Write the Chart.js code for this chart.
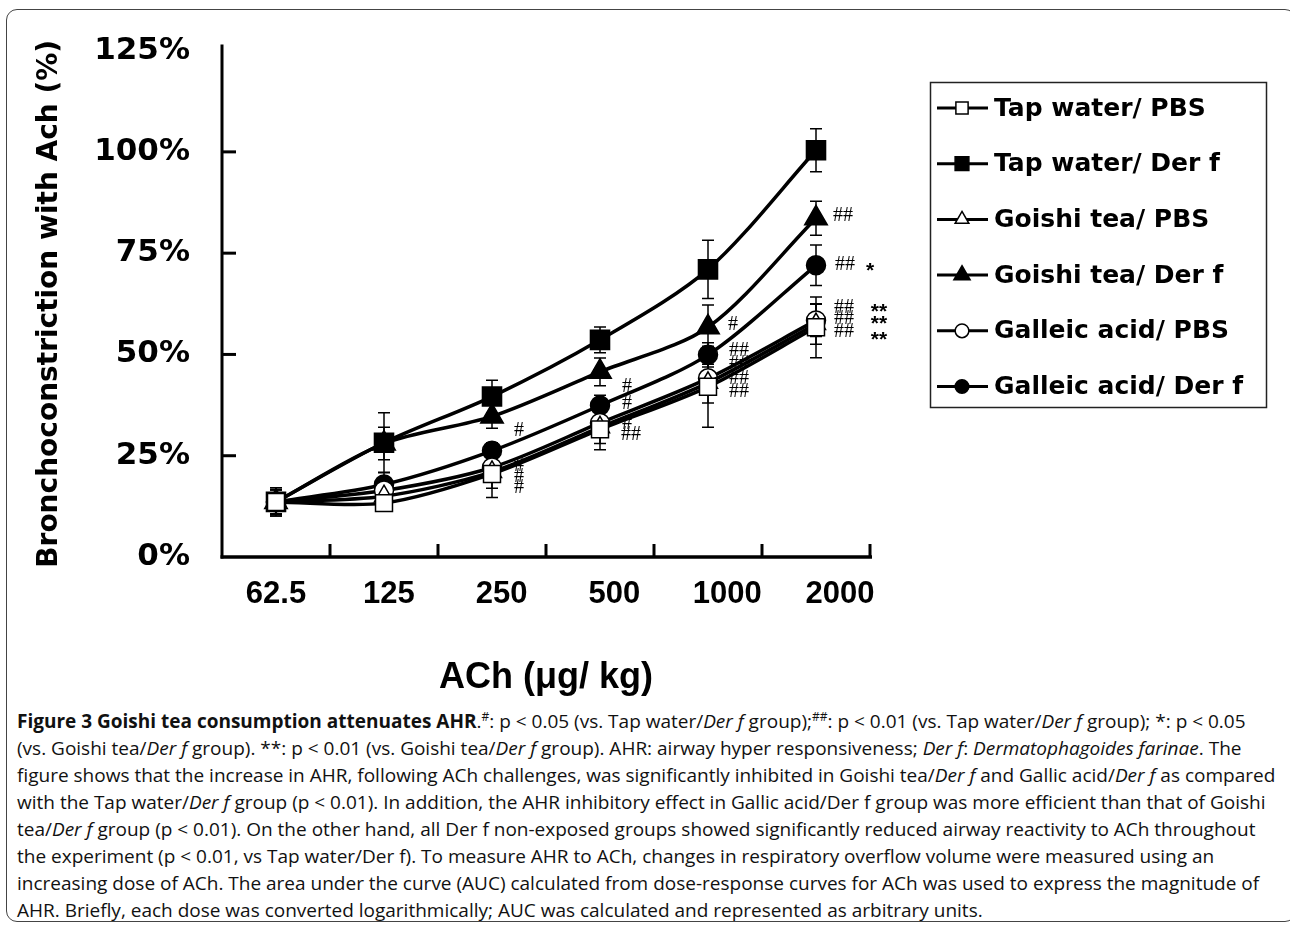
<!DOCTYPE html>
<html>
<head>
<meta charset="utf-8">
<script src="https://cdn.jsdelivr.net/npm/chart.js@4/dist/chart.umd.min.js"></script>
<style>
  html, body { margin: 0; padding: 0; background: #fff; }
  #wrap { position: relative; width: 1290px; height: 925px; overflow: hidden; }
  #chart { position: absolute; left: 0; top: 0; }
  #frame {
    position: absolute; left: 6px; top: 9px; width: 1290px; height: 913px;
    border: 1px solid #444; border-radius: 11px; box-sizing: border-box;
  }
  #caption {
    position: absolute; left: 17px; top: 708px; width: 1270px;
    font-family: "Open Sans", sans-serif; font-size: 19px; line-height: 27px; color: #111;
  }
  #caption div { white-space: nowrap; }
  #caption sup { font-size: 12px; line-height: 0; }
</style>
</head>
<body>
<div id="wrap">
  <div id="frame"></div>
  <canvas id="chart" width="1290" height="700"></canvas>
  <div id="caption">
    <div><b>Figure 3 Goishi tea consumption attenuates AHR</b>.<sup>#</sup>: p &lt; 0.05 (vs. Tap water/<i>Der f</i> group);<sup>##</sup>: p &lt; 0.01 (vs. Tap water/<i>Der f</i> group); *: p &lt; 0.05</div>
    <div>(vs. Goishi tea/<i>Der f</i> group). **: p &lt; 0.01 (vs. Goishi tea/<i>Der f</i> group). AHR: airway hyper responsiveness; <i>Der f</i>: <i>Dermatophagoides farinae</i>. The</div>
    <div>figure shows that the increase in AHR, following ACh challenges, was significantly inhibited in Goishi tea/<i>Der f</i> and Gallic acid/<i>Der f</i> as compared</div>
    <div>with the Tap water/<i>Der f</i> group (p &lt; 0.01). In addition, the AHR inhibitory effect in Gallic acid/Der f group was more efficient than that of Goishi</div>
    <div>tea/<i>Der f</i> group (p &lt; 0.01). On the other hand, all Der f non-exposed groups showed significantly reduced airway reactivity to ACh throughout</div>
    <div>the experiment (p &lt; 0.01, vs Tap water/Der f). To measure AHR to ACh, changes in respiratory overflow volume were measured using an</div>
    <div>increasing dose of ACh. The area under the curve (AUC) calculated from dose-response curves for ACh was used to express the magnitude of</div>
    <div>AHR. Briefly, each dose was converted logarithmically; AUC was calculated and represented as arbitrary units.</div>
  </div>
</div>
<script>
const doses = ['62.5', '125', '250', '500', '1000', '2000'];

const tapPbs = [13.6, 13.3, 20.5, 31.5, 42, 56.7];
const tapDer = [13.6, 28.2, 39.6, 53.6, 71, 100.4];
const goishiPbs = [13.6, 15, 21, 32, 43, 57.5];
const goishiDer = [13.6, 28, 34.7, 45.7, 56.7, 83.6];
const gallPbs = [13.6, 16.4, 22.1, 33.1, 44.1, 58.4];
const gallDer = [13.6, 17.9, 26.2, 37.4, 49.9, 72];

const tapPbsErr = [3.5, 2, 5.8, 5, 10, 7.5];
const tapDerErr = [3.5, 7.4, 4, 3.2, 7.2, 5.3];
const goishiPbsErr = [3, 2, 4, 4, 5, 5];
const goishiDerErr = [3, 4, 2.9, 3.4, 5.5, 4.2];
const gallPbsErr = [3, 2, 3, 3, 3.5, 4];
const gallDerErr = [3, 3, 2, 2.5, 3, 5];

const yTicks = [0, 25, 50, 75, 100, 125];

// [series, dose, text, dx, dy]
const sigMarks = [
  [3, 5, '##', 27, -3],
  [5, 5, '##', 29, -1], [5, 5, '*', 54, 2],
  [4, 5, '##', 28, -13], [4, 5, '**', 63, -12],
  [2, 5, '##', 28, -5], [2, 5, '**', 63, -4],
  [0, 5, '##', 28, 4], [0, 5, '**', 63, 9],
  [3, 4, '#', 25, -3],
  [5, 4, '##', 31, -4],
  [4, 4, '##', 31, -15],
  [2, 4, '##', 31, -4],
  [0, 4, '##', 31, 5],
  [5, 3, '#', 27, -19],
  [4, 3, '#', 27, -19],
  [2, 3, '#', 27, -4],
  [0, 3, '##', 31, 5],
  [5, 2, '#', 27, -20],
  [4, 2, '#', 27, -2],
  [2, 2, '#', 27, 5],
  [0, 2, '#', 27, 14],
];

const series = [
  { label: 'Tap water/ PBS', data: tapPbs, err: tapPbsErr, pointStyle: 'rect', radius: 12, fill: '#fff' },
  { label: 'Tap water/ Der f', data: tapDer, err: tapDerErr, pointStyle: 'rect', radius: 13.5, fill: '#000' },
  { label: 'Goishi tea/ PBS', data: goishiPbs, err: goishiPbsErr, pointStyle: 'triangle', radius: 11, fill: '#fff' },
  { label: 'Goishi tea/ Der f', data: goishiDer, err: goishiDerErr, pointStyle: 'triangle', radius: 13, fill: '#000' },
  { label: 'Galleic acid/ PBS', data: gallPbs, err: gallPbsErr, pointStyle: 'circle', radius: 9.5, fill: '#fff' },
  { label: 'Galleic acid/ Der f', data: gallDer, err: gallDerErr, pointStyle: 'circle', radius: 9.5, fill: '#000' },
];

const drawMarker = (ctx, style, x, y, r, fill) => {
  ctx.save();
  ctx.beginPath();
  if (style === 'rect') {
    const s = r * Math.SQRT1_2;
    ctx.rect(x - s, y - s, 2 * s, 2 * s);
  } else if (style === 'triangle') {
    ctx.moveTo(x, y - r);
    ctx.lineTo(x + r * 0.866, y + r * 0.5);
    ctx.lineTo(x - r * 0.866, y + r * 0.5);
    ctx.closePath();
  } else {
    ctx.arc(x, y, r, 0, Math.PI * 2);
  }
  ctx.fillStyle = fill;
  ctx.fill();
  ctx.lineWidth = 1.5;
  ctx.strokeStyle = '#000';
  ctx.stroke();
  ctx.restore();
};

const figurePlugin = {
  id: 'figurePlugin',
  beforeDatasetsDraw(chart) {
    const { ctx, scales: { x, y } } = chart;
    ctx.save();
    ctx.strokeStyle = '#000';
    ctx.lineWidth = 1.5;
    series.forEach((s) => {
      s.data.forEach((v, i) => {
        const px = x.getPixelForValue(i);
        const top = y.getPixelForValue(v + s.err[i]);
        const bot = y.getPixelForValue(v - s.err[i]);
        ctx.beginPath();
        ctx.moveTo(px, top); ctx.lineTo(px, bot);
        ctx.moveTo(px - 6, top); ctx.lineTo(px + 6, top);
        ctx.moveTo(px - 6, bot); ctx.lineTo(px + 6, bot);
        ctx.stroke();
      });
    });
    ctx.restore();
  },
  afterDraw(chart) {
    const { ctx, chartArea, scales: { x, y } } = chart;
    ctx.save();
    ctx.strokeStyle = '#000';
    ctx.lineCap = 'butt';

    // axes
    ctx.lineWidth = 3;
    ctx.beginPath();
    ctx.moveTo(chartArea.left, chartArea.top - 6);
    ctx.lineTo(chartArea.left, chartArea.bottom + 1.5);
    ctx.stroke();
    ctx.lineWidth = 3.5;
    ctx.beginPath();
    ctx.moveTo(chartArea.left - 1.5, chartArea.bottom);
    ctx.lineTo(chartArea.right + 2, chartArea.bottom);
    ctx.stroke();

    // inward tick marks
    ctx.lineWidth = 3;
    yTicks.slice(1, -1).forEach((t) => {
      const py = y.getPixelForValue(t);
      ctx.beginPath();
      ctx.moveTo(chartArea.left, py); ctx.lineTo(chartArea.left + 14, py);
      ctx.stroke();
    });
    const step = x.getPixelForValue(1) - x.getPixelForValue(0);
    doses.forEach((d, i) => {
      const px = x.getPixelForValue(i) + step / 2;
      ctx.beginPath();
      ctx.moveTo(px, chartArea.bottom); ctx.lineTo(px, chartArea.bottom - 13);
      ctx.stroke();
    });

    // dose labels, spaced a little wider than the points as in the figure
    ctx.fillStyle = '#000';
    ctx.font = 'bold 31px "Liberation Sans"';
    ctx.textAlign = 'center';
    ctx.textBaseline = 'middle';
    doses.forEach((d, i) => {
      ctx.fillText(d, x.getPixelForValue(i) + i * 4.8, chartArea.bottom + 37);
    });

    // significance marks
    sigMarks.forEach(([si, di, txt, dx, dy]) => {
      const px = x.getPixelForValue(di) + dx;
      const py = y.getPixelForValue(series[si].data[di]) + dy;
      if (txt.indexOf('*') >= 0) {
        ctx.font = 'bold 21px "Liberation Sans"';
        ctx.fillText(txt, px, py + 4);
      } else {
        ctx.font = '20px "Liberation Serif"';
        ctx.fillText(txt, px, py);
      }
    });

    // legend
    ctx.lineWidth = 1.5;
    ctx.strokeStyle = '#222';
    ctx.strokeRect(930.5, 82.5, 336, 325);
    ctx.font = 'bold 25px "DejaVu Sans"';
    ctx.textAlign = 'left';
    ctx.textBaseline = 'middle';
    series.forEach((s, i) => {
      const ly = 108 + i * 55.7;
      ctx.strokeStyle = '#000';
      ctx.lineWidth = 3;
      ctx.beginPath();
      ctx.moveTo(937, ly); ctx.lineTo(988, ly);
      ctx.stroke();
      drawMarker(ctx, s.pointStyle, 962, ly, s.radius * 0.72, s.fill);
      ctx.fillStyle = '#000';
      ctx.fillText(s.label, 994, ly + 1);
    });
    ctx.restore();
  },
};

new Chart(document.getElementById('chart'), {
  type: 'line',
  data: {
    labels: doses,
    datasets: series.map((s) => ({
      label: s.label,
      data: s.data,
      borderColor: '#000',
      borderWidth: 3.5,
      tension: 0.3,
      pointStyle: s.pointStyle,
      pointRadius: s.radius,
      pointBackgroundColor: s.fill,
      pointBorderColor: '#000',
      pointBorderWidth: 1.5,
      fill: false,
    })),
  },
  options: {
    responsive: false,
    animation: false,
    devicePixelRatio: 1,
    layout: { padding: { left: 0, right: 420, top: 46, bottom: 0 } },
    plugins: {
      legend: { display: false },
      tooltip: { enabled: false },
    },
    scales: {
      x: {
        type: 'category',
        offset: true,
        grid: { display: false, drawTicks: false },
        border: { display: false },
        ticks: { display: false },
        title: {
          display: true,
          text: 'ACh (μg/ kg)',
          color: '#000',
          padding: { bottom: 0 },
          font: { family: '"Liberation Sans"', weight: 'bold', size: 36 },
        },
        afterFit: (scale) => { scale.height = 143; },
      },
      y: {
        min: 0,
        max: 125,
        grid: { display: false, drawTicks: false },
        border: { display: false },
        afterBuildTicks: (scale) => { scale.ticks = yTicks.map((v) => ({ value: v })); },
        ticks: {
          color: '#000',
          padding: 32,
          callback: (v) => v + '%',
          font: { family: '"DejaVu Sans"', weight: 'bold', size: 31 },
        },
        title: {
          display: true,
          text: 'Bronchoconstriction with Ach (%)',
          color: '#000',
          padding: { top: 33 },
          font: { family: '"DejaVu Sans"', weight: 'bold', size: 28 },
        },
        afterFit: (scale) => { scale.width = 222; },
      },
    },
  },
  plugins: [figurePlugin],
});
</script>
</body>
</html>
